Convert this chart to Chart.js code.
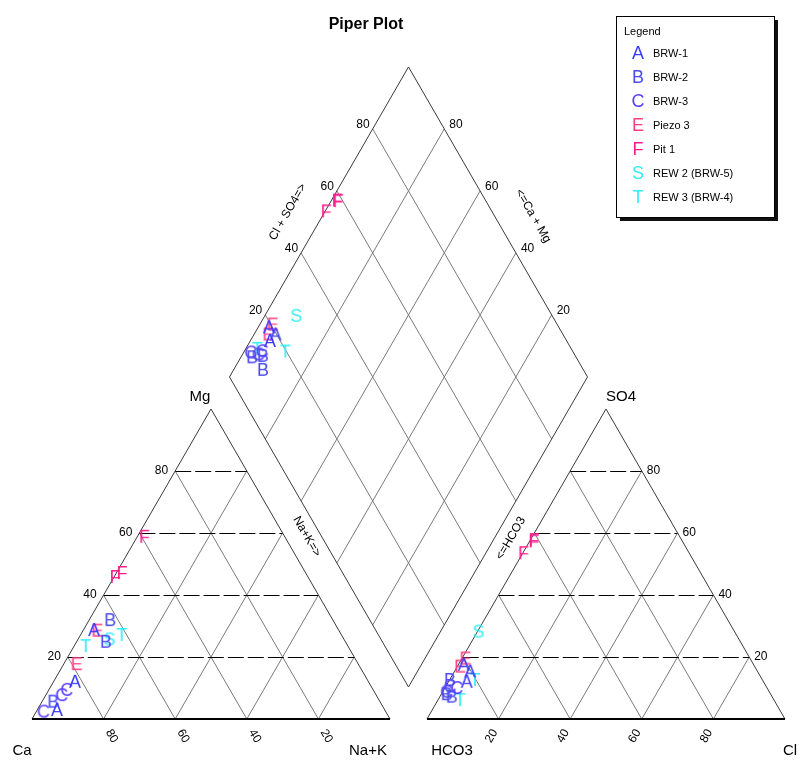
<!DOCTYPE html>
<html>
<head>
<meta charset="utf-8">
<script src="https://cdn.jsdelivr.net/npm/chart.js@4.4.1/dist/chart.umd.min.js"></script>
<style>
html,body{margin:0;padding:0;background:#ffffff;}
#wrap{width:803px;height:760px;position:relative;}
</style>
</head>
<body>
<div id="wrap"><canvas id="c" width="803" height="760"></canvas></div>
<script>
// ---------------- DATA ----------------
const seriesNames   = ['BRW-1','BRW-2','BRW-3','Piezo 3','Pit 1','REW 2 (BRW-5)','REW 3 (BRW-4)'];
const seriesLetters = ['A','B','C','E','F','S','T'];
const seriesColors  = ['#3b3bff','#4b4bf0','#5a3cff','#ff3d82','#ff1a8c','#33eef5','#33eef5'];

// one entry per sample (index into series)
const sampleSeries = [0,0,0, 1,1,1, 2,2,2, 3,3, 4,4,4, 5, 6,6];
// cations (% meq)
const mgPct  = [28.7,12.0,2.9, 31.9,5.6,24.9, 9.4,2.4,7.7, 28.5,17.7, 58.8,45.8,47.1, 25.7, 27.1,23.5];
const naKPct = [3.0,6.0,5.5, 5.9,3.15,8.2, 5.0,2.0,4.45, 4.0,3.6, 2.0,0.3,1.6, 8.8, 11.5,3.25];
// anions (% meq)
const so4Pct = [17.5,15.3,12.0, 12.6,8.0,7.2, 10.0,8.8,10.5, 16.9,19.5, 57.7,53.5,57.3, 28.2, 12.6,6.1];
const clPct  = [1.5,4.4,5.1, 0.1,1.5,3.3, 3.3,1.1,1.2, 0.8,1.0, 1.0,0.2,1.2, 0.3, 7.1,6.2];

const tickVals = [20,40,60,80];

// ---------------- GEOMETRY (Piper transform) ----------------
const GAP = 10.33;              // gap between triangles, in % units
const H = Math.sqrt(3)/2;
function catXY(mg, nak){ return {x: nak + mg/2, y: mg*H}; }
function anXY(so4, cl){ return {x: 100 + GAP + cl + so4/2, y: so4*H}; }
function diaXY(nak, clso4){ return {x: (nak + 100 + GAP + clso4)/2, y: H*(100 + GAP + clso4 - nak)}; }

function letterCanvas(ch, color){
  const c = document.createElement('canvas');
  c.width = 24; c.height = 24;
  const g = c.getContext('2d');
  g.font = '18px "Liberation Sans", Arial, sans-serif';
  g.fillStyle = color; g.textAlign = 'center'; g.textBaseline = 'middle';
  g.fillText(ch, 12, 13);
  return c;
}

const datasets = seriesNames.map((name, si) => {
  const pts = [];
  sampleSeries.forEach((s, i) => {
    if (s !== si) return;
    const ca = catXY(mgPct[i], naKPct[i]);
    const an = anXY(so4Pct[i], clPct[i]);
    const dm = diaXY(naKPct[i], so4Pct[i] + clPct[i]);
    pts.push(ca, an, dm);
  });
  return {
    label: name,
    data: pts,
    pointStyle: letterCanvas(seriesLetters[si], seriesColors[si]),
    pointRadius: 8,
    showLine: false
  };
});

// ---------------- FRAME PLUGIN ----------------
const FONT = '"Liberation Sans", Arial, sans-serif';
const framePlugin = {
  id: 'piperFrame',
  beforeDatasetsDraw(chart){
    const ctx = chart.ctx;
    const xs = chart.scales.x, ys = chart.scales.y;
    const X = p => xs.getPixelForValue(p.x), Y = p => ys.getPixelForValue(p.y);
    function line(a, b, color, w, dash){
      ctx.save();
      ctx.strokeStyle = color; ctx.lineWidth = w; ctx.setLineDash(dash || []);
      ctx.beginPath(); ctx.moveTo(X(a), Y(a)); ctx.lineTo(X(b), Y(b)); ctx.stroke();
      ctx.restore();
    }
    function hline(a, b, color, w, dash){
      const y = Math.round(Y(a)) + 0.5;
      ctx.save();
      ctx.strokeStyle = color; ctx.lineWidth = w; ctx.setLineDash(dash || []);
      ctx.beginPath(); ctx.moveTo(X(a), y); ctx.lineTo(X(b), y); ctx.stroke();
      ctx.restore();
    }
    function text(t, x, y, align, size, rot, bold){
      ctx.save();
      ctx.translate(x, y);
      if (rot) ctx.rotate(rot);
      ctx.font = (bold ? 'bold ' : '') + size + 'px ' + FONT;
      ctx.fillStyle = '#000'; ctx.textAlign = align; ctx.textBaseline = 'middle';
      ctx.fillText(t, 0, 0);
      ctx.restore();
    }
    const grid = '#7a7a7a', edge = '#3a3a3a';
    const dash = [16,4];

    // --- cation triangle ---
    tickVals.forEach(k => {
      line(catXY(0,k), catXY(100-k,k), grid, 1);
      line(catXY(0,100-k), catXY(100-k,0), grid, 1);
    });
    tickVals.forEach(k => hline(catXY(k,0), catXY(k,100-k), '#000', 1, dash));
    line(catXY(0,0), catXY(100,0), edge, 1);
    line(catXY(100,0), catXY(0,100), edge, 1);
    line(catXY(0,0), catXY(0,100), '#000', 2.2);

    // --- anion triangle ---
    tickVals.forEach(k => {
      line(anXY(0,k), anXY(100-k,k), grid, 1);
      line(anXY(0,100-k), anXY(100-k,0), grid, 1);
    });
    tickVals.forEach(k => hline(anXY(k,0), anXY(k,100-k), '#000', 1, dash));
    line(anXY(0,0), anXY(100,0), edge, 1);
    line(anXY(100,0), anXY(0,100), edge, 1);
    line(anXY(0,0), anXY(0,100), '#000', 2.2);

    // --- diamond ---
    tickVals.forEach(k => {
      line(diaXY(k,0), diaXY(k,100), grid, 1);
      line(diaXY(0,k), diaXY(100,k), grid, 1);
    });
    line(diaXY(100,0), diaXY(0,0), edge, 1);
    line(diaXY(0,0), diaXY(0,100), edge, 1);
    line(diaXY(0,100), diaXY(100,100), edge, 1);
    line(diaXY(100,100), diaXY(100,0), edge, 1);

    // --- tick labels ---
    tickVals.forEach(k => {
      let p = catXY(k,0);
      text(String(k), X(p)-7, Y(p), 'right', 12);
      p = catXY(0,k);
      text(String(100-k), X(p)+8, Y(p)+17, 'center', 12, Math.PI/3);
      p = anXY(k,100-k);
      text(String(k), X(p)+5, Y(p), 'left', 12);
      p = anXY(0,k);
      text(String(k), X(p)-7, Y(p)+17, 'center', 12, -Math.PI/3);
      p = diaXY(0,k);
      text(String(k), X(p)-3, Y(p)-4, 'right', 12);
      p = diaXY(100-k,100);
      text(String(k), X(p)+5, Y(p)-4, 'left', 12);
    });

    // --- axis names ---
    let p;
    p = catXY(0,0);   text('Ca', X(p)-10, Y(p)+32, 'center', 15);
    p = catXY(0,100); text('Na+K', X(p)-22, Y(p)+32, 'center', 15);
    p = catXY(100,0); text('Mg', X(p)-11, Y(p)-12, 'center', 15);
    p = anXY(0,0);    text('HCO3', X(p)+25, Y(p)+32, 'center', 15);
    p = anXY(0,100);  text('Cl', X(p)+5, Y(p)+32, 'center', 15);
    p = anXY(100,0);  text('SO4', X(p)+15, Y(p)-12, 'center', 15);

    // --- diamond edge names ---
    p = diaXY(0,50);   text('Cl + SO4=>', X(p)-31, Y(p)-10, 'center', 12, -Math.PI/3);
    p = diaXY(50,100); text('<=Ca + Mg', X(p)+35, Y(p)-6, 'center', 12, Math.PI/3);
    p = diaXY(46,0);   text('Na+K=>', X(p)-5, Y(p)+17, 'center', 12, Math.PI/3);
    p = diaXY(100,46); text('<=HCO3', X(p)+20, Y(p)-6, 'center', 12, -Math.PI/3);

    // --- title ---
    text('Piper Plot', 366, 25, 'center', 16, 0, true);
  },
  afterDraw(chart){
    const ctx = chart.ctx;
    const bx = 616, by = 16, bw = 158, bh = 201;
    ctx.save();
    ctx.fillStyle = '#111';
    ctx.fillRect(bx+4, by+4, bw, bh);
    ctx.fillStyle = '#fff';
    ctx.fillRect(bx, by, bw, bh);
    ctx.strokeStyle = '#000'; ctx.lineWidth = 1;
    ctx.strokeRect(bx+0.5, by+0.5, bw, bh);
    ctx.fillStyle = '#000';
    ctx.font = '11px ' + FONT; ctx.textBaseline = 'middle'; ctx.textAlign = 'left';
    ctx.fillText('Legend', bx+8, by+16);
    seriesNames.forEach((n, i) => {
      const y = by + 37 + i*24;
      ctx.font = '18px ' + FONT; ctx.textAlign = 'center'; ctx.fillStyle = seriesColors[i];
      ctx.fillText(seriesLetters[i], bx+22, y+1);
      ctx.font = '11px ' + FONT; ctx.textAlign = 'left'; ctx.fillStyle = '#000';
      ctx.fillText(n, bx+37, y+1);
    });
    ctx.restore();
  }
};

new Chart(document.getElementById('c'), {
  type: 'scatter',
  data: { datasets },
  options: {
    responsive: false,
    animation: false,
    devicePixelRatio: 1,
    layout: { padding: 0, autoPadding: false },
    scales: {
      x: { type: 'linear', min: -8.94, max: 215.36, display: false },
      y: { type: 'linear', min: -11.45, max: 200.84, display: false }
    },
    plugins: { legend: { display: false }, tooltip: { enabled: false }, title: { display: false } },
    clip: false
  },
  plugins: [framePlugin]
});
</script>
</body>
</html>
